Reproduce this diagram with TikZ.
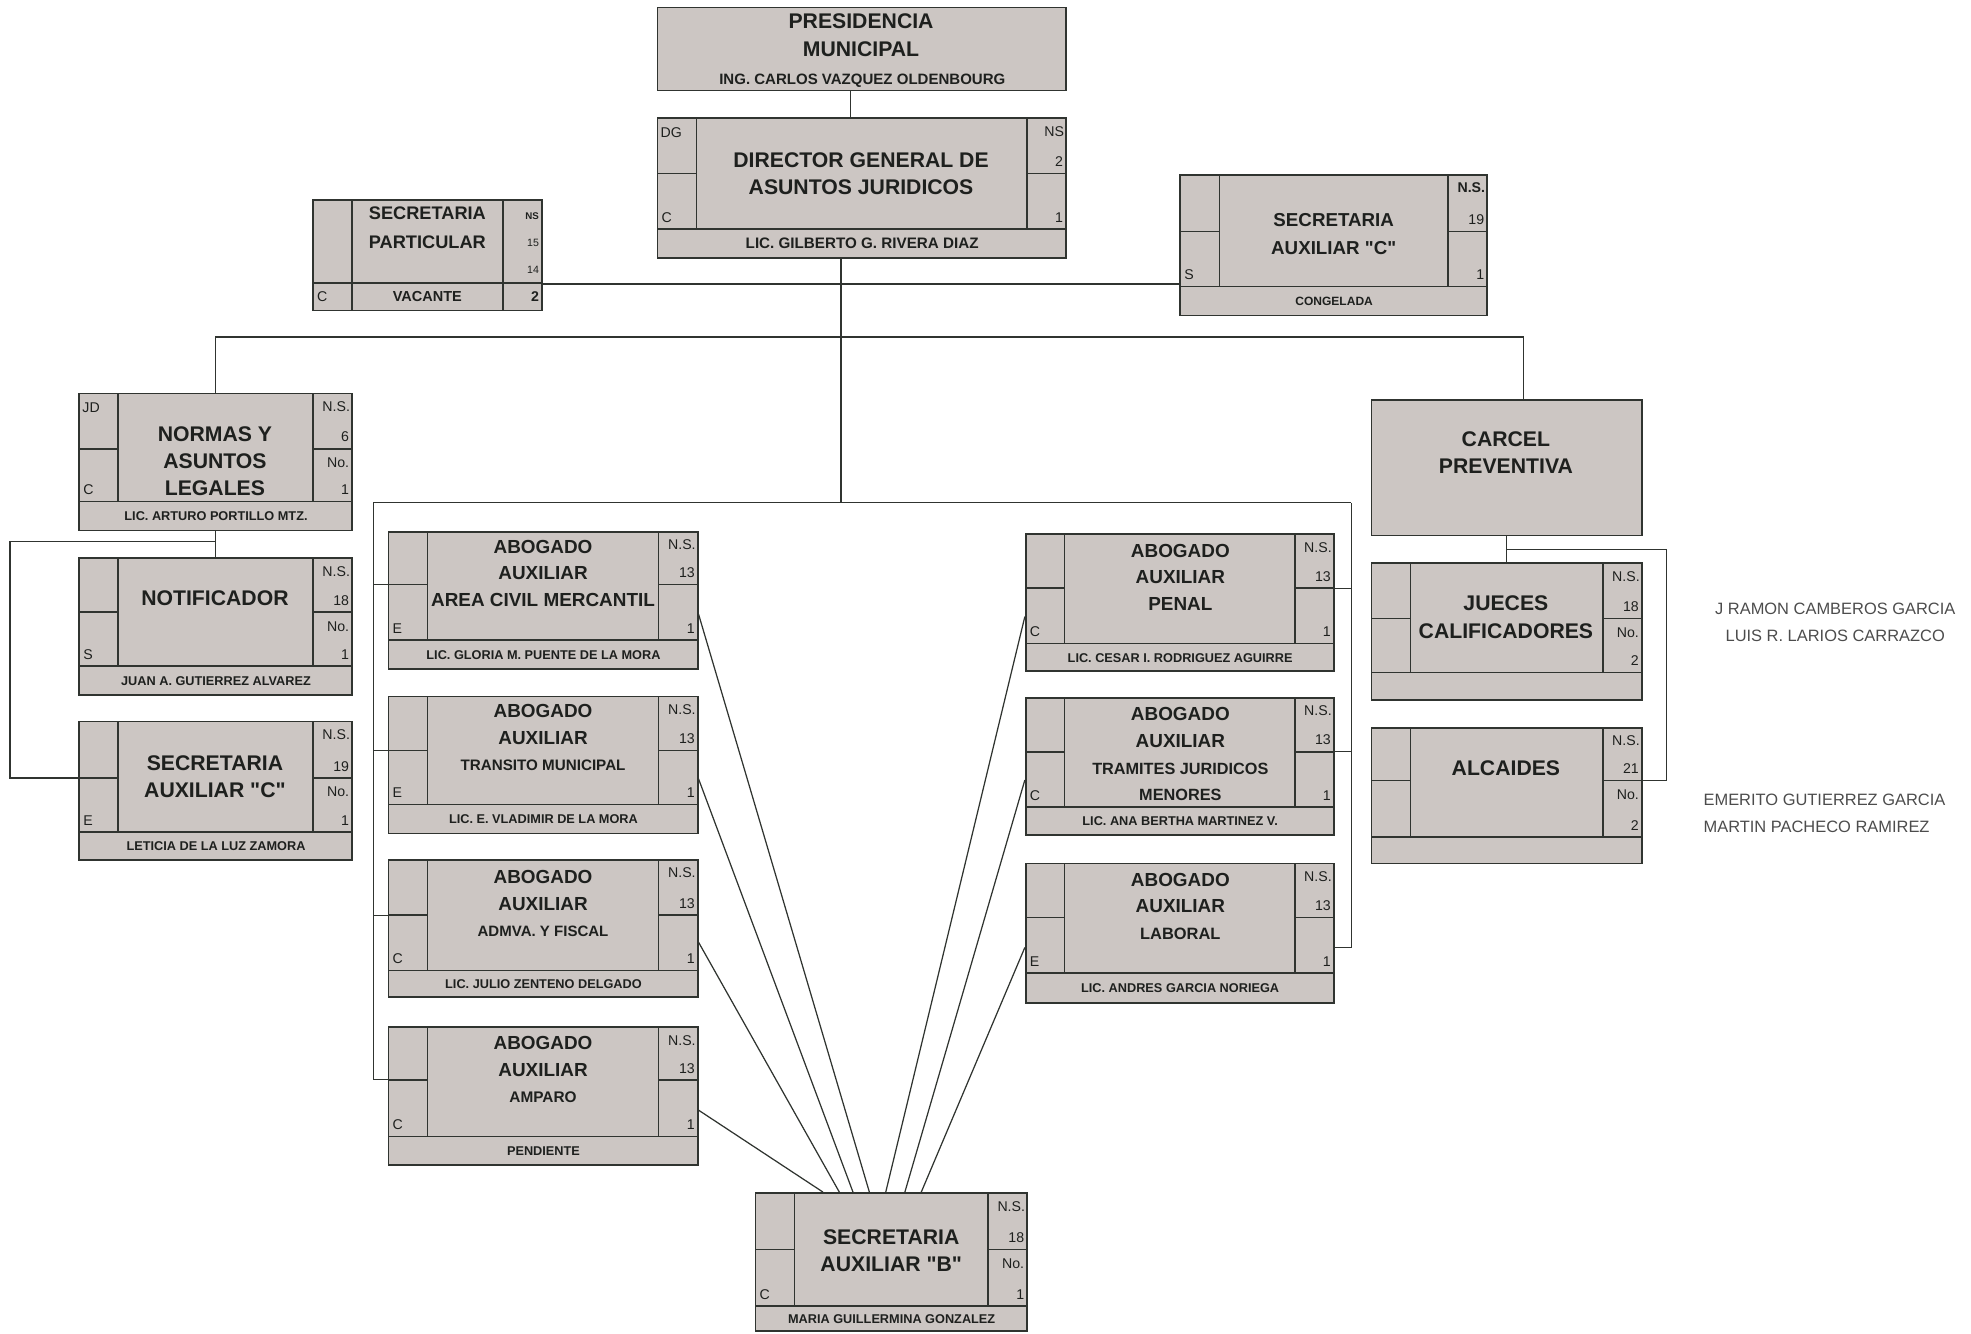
\documentclass[tikz,border=0pt]{standalone}
\usepackage{fontspec}
\setmainfont{Liberation Sans}[Ligatures=TeXOff]
\usetikzlibrary{calc,fit}

\definecolor{fondo}{RGB}{204,198,195}
\definecolor{trazo}{RGB}{48,52,48}
\definecolor{tinta}{RGB}{30,32,30}

\tikzset{
  caja/.style={draw=trazo, line width=1pt, fill=fondo, inner sep=0pt},
  raya/.style={draw=trazo, line width=0.9pt},
  linea/.style={draw=trazo, line width=0.7pt},
  titulo/.style={font=\bfseries\fontsize{12}{15.4}\selectfont, align=center, inner sep=0pt, text=tinta},
  titulob/.style={font=\bfseries\fontsize{10.7}{15}\selectfont, align=center, inner sep=0pt, text=tinta},
  nombre/.style={font=\bfseries\fontsize{7.2}{8}\selectfont, inner sep=0pt, text=tinta},
  dato/.style={font=\fontsize{8}{9}\selectfont, inner sep=0pt, text=tinta},
  suelto/.style={font=\fontsize{9.3}{15.6}\selectfont, inner sep=0pt, text=black!70},
}

% frame of one post: name, left, top, right, divider, main bottom, strip bottom, holder
\newcommand{\puesto}[8]{%
  \node[caja, fit={(#2,#3) (#4,#7)}] (#1) {};
  \draw[raya] (#2+31,#3) -- (#2+31,#6) (#4-31,#3) -- (#4-31,#6)
    (#2,#5) -- (#2+31,#5) (#4-31,#5) -- (#4,#5) (#2,#6) -- (#4,#6);
  \coordinate (#1-d) at (#2,#5);
  \coordinate (#1-e) at (#4,#5);
  \coordinate (#1-mw) at (#2,#6);
  \coordinate (#1-me) at (#4,#6);
  \node[nombre] (#1-n) at ($(#1-mw)!.5!(#1.south east)$) {#8};
}

% small cells: name, left top, left bottom, right 1..4
\newcommand{\celdas}[7]{%
  \node[dato, anchor=north west] (#1-lt) at ($(#1.north west)+(3,8)$) {#2};
  \node[dato, anchor=south west] (#1-lb) at ($(#1-mw)+(3,-5)$) {#3};
  \node[dato, anchor=north east] (#1-r1) at ($(#1.north east)+(-2,7)$) {#4};
  \node[dato, anchor=south east] (#1-r2) at ($(#1-e)+(-2,-5)$) {#5};
  \node[dato, anchor=north east] (#1-r3) at ($(#1-e)+(-2,7)$) {#6};
  \node[dato, anchor=south east] (#1-r4) at ($(#1-me)+(-2,-5)$) {#7};
}

\begin{document}
\begin{tikzpicture}[x=0.025cm, y=-0.025cm]

    \useasboundingbox (0,0) rectangle (1568,1061);

    % presidencia
    \node[caja, fit={(523,6) (848,72)}] (pres) {};
    \node[titulo] (pres-t) at (685,28) {PRESIDENCIA\\MUNICIPAL};
    \node[nombre, font=\bfseries\fontsize{8.5}{10}\selectfont] (pres-n) at (686,64) {ING. CARLOS VAZQUEZ OLDENBOURG};

    % director general
    \puesto{dir}{523}{94}{848}{138}{182}{205}{\fontsize{8.6}{10}\selectfont LIC. GILBERTO G. RIVERA DIAZ}
    \celdas{dir}{DG}{C}{NS}{2}{}{1}
    \node[titulo] (dir-t) at (685,138) {DIRECTOR GENERAL DE\\ASUNTOS JURIDICOS};

    % secretaria particular
    \node[caja, fit={(249,159) (431,247)}] (secpart) {};
    \draw[raya] (280,159) -- (280,247) (400,159) -- (400,247) (249,225) -- (431,225);
    \node[titulo, font=\bfseries\fontsize{10.3}{16.4}\selectfont] (secpart-t) at (340,181) {SECRETARIA\\PARTICULAR};
    \node[dato, font=\bfseries\fontsize{5.5}{6}\selectfont, anchor=east] (secpart-r1) at (429,172) {NS};
    \node[dato, font=\fontsize{6}{7}\selectfont, anchor=east] (secpart-r2) at (429,193) {15};
    \node[dato, font=\fontsize{6}{7}\selectfont, anchor=east] (secpart-r3) at (429,215) {14};
    \node[dato, anchor=west] (secpart-lb) at (252,236) {C};
    \node[nombre, font=\bfseries\fontsize{8.2}{9}\selectfont] (secpart-n) at (340,236) {VACANTE};
    \node[dato, font=\bfseries\fontsize{8}{9}\selectfont, anchor=east] (secpart-r4) at (429,236) {2};

    % secretaria auxiliar c (arriba)
    \puesto{secc}{939}{139}{1183}{184}{228}{251}{\fontsize{6.8}{8}\selectfont CONGELADA}
    \celdas{secc}{}{S}{\textbf{N.S.}}{19}{}{1}
    \node[titulo, font=\bfseries\fontsize{10.6}{15.6}\selectfont] (secc-t) at (1061,186) {SECRETARIA\\AUXILIAR "C"};

    % normas y asuntos legales
    \puesto{normas}{63}{313}{280}{357}{399}{422}{LIC. ARTURO PORTILLO MTZ.}
    \celdas{normas}{JD}{C}{N.S.}{6}{No.}{1}
    \node[titulo] (normas-t) at (171,367) {NORMAS Y\\ASUNTOS\\LEGALES};

    \puesto{notif}{63}{444}{280}{487}{530}{553}{JUAN A. GUTIERREZ ALVAREZ}
    \celdas{notif}{}{S}{N.S.}{18}{No.}{1}
    \node[titulo] (notif-t) at (171,476) {NOTIFICADOR};

    \puesto{secizq}{63}{574}{280}{619}{662}{684}{LETICIA DE LA LUZ ZAMORA}
    \celdas{secizq}{}{E}{N.S.}{19}{No.}{1}
    \node[titulo] (secizq-t) at (171,618) {SECRETARIA\\AUXILIAR "C"};

    % abogados, columna izquierda
    \puesto{a1}{309}{423}{555}{465}{509}{532}{LIC. GLORIA M. PUENTE DE LA MORA}
    \celdas{a1}{}{E}{N.S.}{13}{}{1}
    \node[titulob] (a1-t) at (432,456) {ABOGADO\\AUXILIAR\\AREA CIVIL MERCANTIL};

    \puesto{a2}{309}{554}{555}{597}{640}{663}{LIC. E. VLADIMIR DE LA MORA}
    \celdas{a2}{}{E}{N.S.}{13}{}{1}
    \node[titulob] (a2-t) at (432,587) {ABOGADO\\AUXILIAR\\{\fontsize{8.6}{15}\selectfont TRANSITO MUNICIPAL}};

    \puesto{a3}{309}{684}{555}{728}{772}{793}{LIC. JULIO ZENTENO DELGADO}
    \celdas{a3}{}{C}{N.S.}{13}{}{1}
    \node[titulob] (a3-t) at (432,719) {ABOGADO\\AUXILIAR\\{\fontsize{8.5}{15}\selectfont ADMVA. Y FISCAL}};

    \puesto{a4}{309}{817}{555}{859}{904}{927}{PENDIENTE}
    \celdas{a4}{}{C}{N.S.}{13}{}{1}
    \node[titulob] (a4-t) at (432,851) {ABOGADO\\AUXILIAR\\{\fontsize{8.7}{15}\selectfont AMPARO}};

    % abogados, columna derecha
    \puesto{b1}{816}{425}{1061}{468}{512}{534}{LIC. CESAR I. RODRIGUEZ AGUIRRE}
    \celdas{b1}{}{C}{N.S.}{13}{}{1}
    \node[titulob] (b1-t) at (939,459) {ABOGADO\\AUXILIAR\\PENAL};

    \puesto{b2}{816}{555}{1061}{598}{642}{664}{LIC. ANA BERTHA MARTINEZ V.}
    \celdas{b2}{}{C}{N.S.}{13}{}{1}
    \node[titulob] (b2-t) at (939,600) {ABOGADO\\AUXILIAR\\{\fontsize{9.2}{15}\selectfont TRAMITES JURIDICOS}\\{\fontsize{9.2}{15}\selectfont MENORES}};

    \puesto{b3}{816}{687}{1061}{730}{774}{798}{LIC. ANDRES GARCIA NORIEGA}
    \celdas{b3}{}{E}{N.S.}{13}{}{1}
    \node[titulob] (b3-t) at (939,721) {ABOGADO\\AUXILIAR\\{\fontsize{9.3}{15}\selectfont LABORAL}};

    % carcel preventiva
    \node[caja, fit={(1091,318) (1306,426)}] (carcel) {};
    \node[titulo] (carcel-t) at (1198,360) {CARCEL\\PREVENTIVA};

    \puesto{jueces}{1091}{448}{1306}{492}{535}{557}{}
    \celdas{jueces}{}{}{N.S.}{18}{No.}{2}
    \node[titulo] (jueces-t) at (1198,491) {JUECES\\CALIFICADORES};
    \node[suelto, align=center] (jueces-nom) at (1460,495) {J RAMON CAMBEROS GARCIA\\LUIS R. LARIOS CARRAZCO};

    \puesto{alc}{1091}{579}{1306}{621}{666}{687}{}
    \celdas{alc}{}{}{N.S.}{21}{No.}{2}
    \node[titulo] (alc-t) at (1198,611) {ALCAIDES};
    \node[suelto, align=left, anchor=west] (alc-nom) at (1355,647) {EMERITO GUTIERREZ GARCIA\\MARTIN PACHECO RAMIREZ};

    % secretaria auxiliar b
    \puesto{secb}{601}{949}{817}{994}{1039}{1059}{MARIA GUILLERMINA GONZALEZ}
    \celdas{secb}{}{C}{N.S.}{18}{No.}{1}
    \node[titulo] (secb-t) at (709,995) {SECRETARIA\\AUXILIAR "B"};

    % junctions
    \coordinate (j1) at (669,226);
    \coordinate (j2) at (669,268);
    \coordinate (j3) at (669,400);
    \coordinate (izq) at (297,400);
    \coordinate (der) at (1075,400);
    \coordinate (k1) at (8,431);
    \coordinate (k2) at (1326,437);

    % main lines
    \draw[linea] ([xshift=-0.22cm]pres.south) -- ([xshift=-0.22cm]dir.north);
    \draw[linea] (dir.south -| j3) -- (j3);
    \draw[linea] (secpart.east |- j1) -- (secc.west |- j1);
    \draw[linea] (normas.north) |- (j2) -| ([xshift=0.33cm]carcel.north);
    \draw[linea] (izq) -- (der);

    % left bracket
    \draw[linea] (izq) |- (a4-d);
    \draw[linea] (izq |- a1-d) -- (a1-d);
    \draw[linea] (izq |- a2-d) -- (a2-d);
    \draw[linea] (izq |- a3-d) -- (a3-d);

    % right bracket
    \draw[linea] (der) |- ($(b3.north east)!.6!(b3.south east)$);
    \draw[linea] (der |- b1-e) -- (b1-e);
    \draw[linea] (der |- b2-e) -- (b2-e);

    % normas group
    \draw[linea] (normas.south) -- (notif.north);
    \draw[linea] (normas.south |- k1) -- (k1) |- (secizq-d);

    % carcel group
    \draw[linea] (carcel.south) -- (jueces.north);
    \draw[linea] (carcel.south |- k2) -- (k2) |- (alc-e);

    % fan to secretaria b
    \draw[linea] ($(a1.north east)!.6!(a1.south east)$) -- ($(secb.north west)!.42!(secb.north east)$);
    \draw[linea] ($(a2.north east)!.6!(a2.south east)$) -- ($(secb.north west)!.36!(secb.north east)$);
    \draw[linea] ($(a3.north east)!.6!(a3.south east)$) -- ($(secb.north west)!.31!(secb.north east)$);
    \draw[linea] ($(a4.north east)!.6!(a4.south east)$) -- ($(secb.north west)!.25!(secb.north east)$);
    \draw[linea] ($(b1.north west)!.6!(b1.south west)$) -- ($(secb.north west)!.48!(secb.north east)$);
    \draw[linea] ($(b2.north west)!.6!(b2.south west)$) -- ($(secb.north west)!.55!(secb.north east)$);
    \draw[linea] ($(b3.north west)!.6!(b3.south west)$) -- ($(secb.north west)!.61!(secb.north east)$);

\end{tikzpicture}
\end{document}
